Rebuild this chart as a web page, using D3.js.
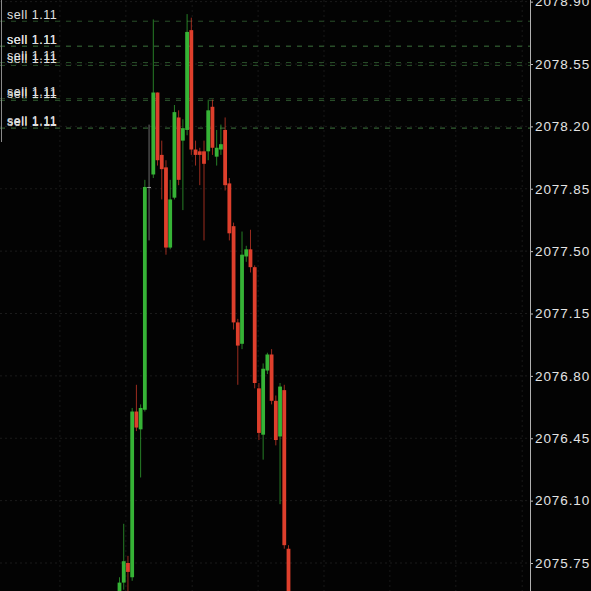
<!DOCTYPE html>
<html>
<head>
<meta charset="utf-8">
<script src="https://cdn.jsdelivr.net/npm/d3@7"></script>
<style>
  html, body { margin: 0; padding: 0; background: #030303; overflow: hidden; }
  svg { display: block; }
  .tick-label { font-family: "Liberation Sans", Arial, sans-serif; font-size: 13.5px; letter-spacing: 0.9px; fill: #e4e4e4; }
  .sell-label { font-family: "Liberation Sans", Arial, sans-serif; font-size: 12.5px; letter-spacing: 0.5px; fill: #e0e0e0; }
</style>
</head>
<body>
<script>
// Candle data (index order, left to right)
const opens  = [2075.57, 2075.64, 2075.75, 2075.67, 2076.60, 2076.50, 2076.61, 2077.86, 2077.93, 2078.39,
                2078.04, 2077.97, 2077.52, 2077.80, 2078.25, 2078.12, 2078.18, 2078.74, 2078.07, 2078.06,
                2078.06, 2078.06, 2078.31, 2078.03, 2078.07, 2078.18, 2077.88, 2077.64, 2077.10, 2076.98,
                2077.47, 2077.51, 2077.41, 2076.73, 2076.47, 2076.83, 2076.92, 2076.66, 2076.46, 2076.72,
                2075.83];
const highs  = [2075.67, 2075.97, 2075.79, 2076.62, 2076.75, 2076.64, 2077.90, 2078.21, 2078.80, 2078.39,
                2078.12, 2078.01, 2077.90, 2078.32, 2078.29, 2078.24, 2078.83, 2078.81, 2078.12, 2078.08,
                2078.12, 2078.35, 2078.35, 2078.18, 2078.21, 2078.25, 2077.91, 2077.66, 2077.12, 2077.61,
                2077.53, 2077.62, 2077.42, 2076.76, 2076.87, 2076.93, 2076.95, 2076.69, 2076.76, 2076.75,
                2075.85];
const lows   = [2075.54, 2075.60, 2075.54, 2075.65, 2076.49, 2076.23, 2076.60, 2077.56, 2077.91, 2077.98,
                2077.79, 2077.48, 2077.51, 2077.79, 2077.87, 2077.73, 2078.15, 2078.04, 2077.98, 2077.87,
                2077.56, 2078.01, 2078.04, 2077.98, 2078.04, 2077.84, 2077.56, 2077.06, 2076.75, 2076.95,
                2077.44, 2077.38, 2076.73, 2076.44, 2076.33, 2076.81, 2076.64, 2076.41, 2076.08, 2075.83,
                2075.49];
const closes = [2075.64, 2075.76, 2075.70, 2076.60, 2076.51, 2076.62, 2077.86, 2077.86, 2078.39, 2078.01,
                2077.96, 2077.52, 2077.79, 2078.28, 2077.90, 2078.19, 2078.73, 2078.07, 2078.04, 2078.04,
                2077.99, 2078.29, 2078.08, 2078.08, 2078.10, 2077.87, 2077.60, 2077.10, 2076.97, 2077.48,
                2077.51, 2077.41, 2076.76, 2076.48, 2076.84, 2076.92, 2076.66, 2076.44, 2076.74, 2075.85,
                2075.54];

// Pending sell orders (price levels), all labelled "sell 1.11"
const sellPrices = [2078.79, 2078.651, 2078.648, 2078.558, 2078.542, 2078.355, 2078.345, 2078.191, 2078.189];
const sellLabel = "sell 1.11";

// Price axis ticks
const yTicks = [2078.90, 2078.55, 2078.20, 2077.85, 2077.50, 2077.15, 2076.80, 2076.45, 2076.10, 2075.75];
// Vertical grid positions, in candle index units
const xGridIdx = [-14.1, 1.5, 17.2, 32.8, 48.4, 64.0, 79.6, 95.3];

const width = 591, height = 591;
const axisX = 530;

const svg = d3.select("body").append("svg")
    .attr("width", width)
    .attr("height", height);

svg.append("rect")
    .attr("width", width).attr("height", height)
    .attr("fill", "#030303");

const x = d3.scaleLinear().domain([0, 40]).range([119.5, 288.5]);
const y = d3.scaleLinear().domain([2075.75, 2078.55]).range([563, 64]);

// grid (very faint)
svg.append("g").selectAll("line")
    .data(yTicks)
    .join("line")
    .attr("x1", 0).attr("x2", axisX)
    .attr("y1", d => y(d)).attr("y2", d => y(d))
    .attr("stroke", "#1b1b1b")
    .attr("stroke-width", 1)
    .attr("stroke-dasharray", "2,3");

svg.append("g").selectAll("line")
    .data(xGridIdx)
    .join("line")
    .attr("x1", d => x(d)).attr("x2", d => x(d))
    .attr("y1", 0).attr("y2", height)
    .attr("stroke", "#191919")
    .attr("stroke-width", 1)
    .attr("stroke-dasharray", "2,3");

// sell order lines
svg.append("g").selectAll("line")
    .data(sellPrices)
    .join("line")
    .attr("x1", 0).attr("x2", axisX)
    .attr("y1", d => y(d)).attr("y2", d => y(d))
    .attr("stroke", "#2a4f2a")
    .attr("stroke-width", 1)
    .attr("stroke-dasharray", "5,6");

// candles
const candles = opens.map((o, i) => ({i: i, o: o, h: highs[i], l: lows[i], c: closes[i]}));
const colourOf = d => d.c > d.o ? "#36b336" : (d.c < d.o ? "#de3f2c" : "#9a9a9a");

const cg = svg.append("g");
cg.selectAll("line")
    .data(candles)
    .join("line")
    .attr("x1", d => x(d.i)).attr("x2", d => x(d.i))
    .attr("y1", d => y(d.h)).attr("y2", d => y(d.l))
    .attr("stroke", colourOf)
    .attr("stroke-opacity", 0.7)
    .attr("stroke-width", 1);

cg.selectAll("rect")
    .data(candles)
    .join("rect")
    .attr("x", d => x(d.i) - 1.9)
    .attr("width", 3.8)
    .attr("y", d => y(Math.max(d.o, d.c)))
    .attr("height", d => Math.max(1, Math.abs(y(d.o) - y(d.c))))
    .attr("fill", colourOf);

// sell labels
svg.append("g").selectAll("text")
    .data(sellPrices)
    .join("text")
    .attr("class", "sell-label")
    .attr("x", 7)
    .attr("y", d => y(d) - 2.5)
    .text(sellLabel);

// left edge marker
svg.append("line")
    .attr("x1", 1.5).attr("x2", 1.5)
    .attr("y1", 0).attr("y2", 142)
    .attr("stroke", "#8a8a8a")
    .attr("stroke-width", 1);

// right price axis
const yAxis = d3.axisRight(y)
    .tickValues(yTicks)
    .tickFormat(d3.format(".2f"))
    .tickSize(3)
    .tickPadding(2);

const ax = svg.append("g")
    .attr("transform", "translate(" + axisX + ",0)")
    .call(yAxis);

ax.select(".domain").remove();
ax.selectAll(".tick line").attr("stroke", "#bdbdbd");
ax.selectAll(".tick text")
    .attr("class", "tick-label")
    .attr("font-family", null)
    .attr("font-size", null)
    .attr("fill", null);

svg.append("line")
    .attr("x1", axisX + 0.5).attr("x2", axisX + 0.5)
    .attr("y1", 0).attr("y2", height)
    .attr("stroke", "#b0b0b0")
    .attr("stroke-width", 1);
</script>
</body>
</html>
